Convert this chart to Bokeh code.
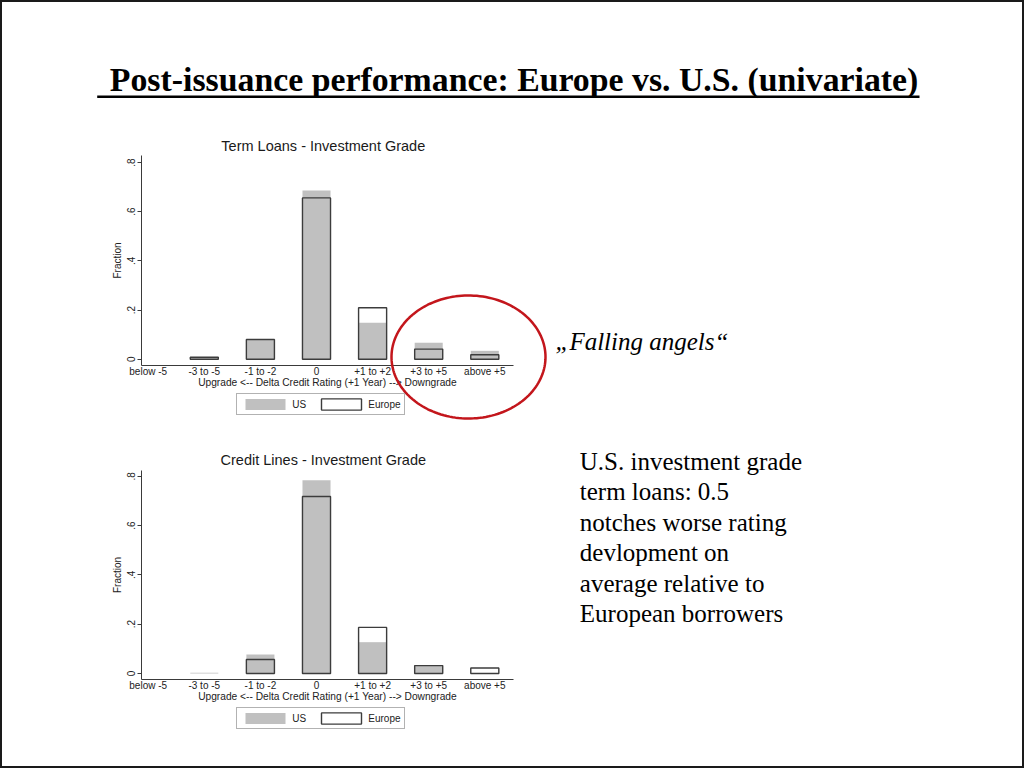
import numpy as np
from bokeh.plotting import figure
from bokeh.models import (ColumnDataSource, Legend, LegendItem, Label, PolyAnnotation,
                          FixedTicker, Range1d, LinearAxis)
from bokeh.embed import file_html
from bokeh.resources import INLINE

# ---------------- data ----------------
categories = ["below -5", "-3 to -5", "-1 to -2", "0", "+1 to +2", "+3 to +5", "above +5"]
term_us = [0.0, 0.008, 0.080, 0.686, 0.148, 0.067, 0.034]
term_eu = [0.0, 0.008, 0.080, 0.656, 0.209, 0.041, 0.018]
credit_us = [0.0, 0.003, 0.077, 0.784, 0.127, 0.032, 0.0]
credit_eu = [0.0, 0.0, 0.057, 0.718, 0.187, 0.032, 0.022]
y_ticks = [0, 0.2, 0.4, 0.6, 0.8]
y_tick_labels = ["0", ".2", ".4", ".6", ".8"]
series_names = ["US", "Europe"]
x_axis_title = "Upgrade <-- Delta Credit Rating (+1 Year) --> Downgrade"
y_axis_title = "Fraction"
chart_titles = ["Term Loans - Investment Grade", "Credit Lines - Investment Grade"]
page_title = "Post-issuance performance: Europe vs. U.S. (univariate)"
callout = "\u201eFalling angels\u201c"
note_lines = ["U.S. investment grade", "term loans: 0.5", "notches worse rating",
              "devlopment on", "average relative to", "European borrowers"]

# ---------------- layout / style constants (pixels) ----------------
W, H = 1024, 768
CAT0_PX, CAT_STEP = 147.7, 56.1          # first category centre, category step
TOP_ZERO_PY, TOP_PPU = 358.7, 245.9      # top chart: y of 0, pixels per unit
BOT_ZERO_PY, BOT_PPU = 673.0, 246.6      # bottom chart
SANS = "Liberation Sans"
SERIF = "Liberation Serif"
US_FILL = "#c0c0c0"
EU_LINE = "#3c3c3c"
AX = "#3a3a3a"
TXT = "#222222"

x_start = -CAT0_PX / CAT_STEP
x_end = (W - CAT0_PX) / CAT_STEP
yt_start, yt_end = (TOP_ZERO_PY - H) / TOP_PPU, TOP_ZERO_PY / TOP_PPU
yb_start, yb_end = (BOT_ZERO_PY - H) / BOT_PPU, BOT_ZERO_PY / BOT_PPU


def X(px):
    return (px - CAT0_PX) / CAT_STEP


def YT(py):
    return (TOP_ZERO_PY - py) / TOP_PPU


def YB(py):
    return (BOT_ZERO_PY - py) / BOT_PPU


p = figure(width=W, height=H, output_backend="svg", toolbar_location=None,
           x_range=Range1d(x_start, x_end), y_range=Range1d(yt_start, yt_end),
           x_axis_location=None, y_axis_location=None, title_location=None,
           min_border=0, min_border_left=0, min_border_right=0,
           min_border_top=0, min_border_bottom=0)
p.extra_y_ranges = {"bot": Range1d(yb_start, yb_end)}
p.grid.visible = False
p.background_fill_color = "white"
p.border_fill_color = "white"
p.outline_line_color = "#1a1a1a"
p.outline_line_width = 3


def chart(title, us, eu, yname, Yf, frame_top_py, axis_py, title_py, legend_bottom_py):
    kw = {} if yname is None else {"y_range_name": yname}
    xs = list(range(len(categories)))
    us_src = ColumnDataSource(dict(x=[x for x, v in zip(xs, us) if v > 0],
                                   top=[v for v in us if v > 0]))
    eu_src = ColumnDataSource(dict(x=[x for x, v in zip(xs, eu) if v > 0],
                                   top=[v for v in eu if v > 0]))
    r_us = p.vbar(x="x", top="top", bottom=0, width=0.5, source=us_src,
                  fill_color=US_FILL, line_color=None, **kw)
    r_eu = p.vbar(x="x", top="top", bottom=0, width=0.5, source=eu_src,
                  fill_color=None, line_color=EU_LINE, line_width=1.4, **kw)

    ya = LinearAxis(fixed_location=X(140.7), bounds=(Yf(axis_py), Yf(frame_top_py)), **kw)
    ya.ticker = FixedTicker(ticks=y_ticks)
    ya.major_label_overrides = dict(zip(y_ticks, y_tick_labels))
    ya.major_label_orientation = "vertical"
    ya.major_tick_out = 4
    ya.major_tick_in = 0
    ya.minor_tick_line_color = None
    ya.major_tick_line_color = AX
    ya.major_label_standoff = 2
    ya.major_label_text_font = SANS
    ya.major_label_text_font_size = "10px"
    ya.major_label_text_color = TXT
    ya.axis_label = y_axis_title
    ya.axis_label_text_font = SANS
    ya.axis_label_text_font_size = "10px"
    ya.axis_label_text_font_style = "normal"
    ya.axis_label_text_color = TXT
    ya.axis_label_standoff = 2
    ya.axis_line_color = AX
    p.add_layout(ya, "left")

    xa = LinearAxis(fixed_location=Yf(axis_py), bounds=(X(140.7), X(513)), **kw)
    xa.ticker = FixedTicker(ticks=xs)
    xa.major_label_overrides = {i: c for i, c in enumerate(categories)}
    xa.major_tick_line_color = None
    xa.major_tick_out = 0
    xa.major_tick_in = 0
    xa.minor_tick_line_color = None
    xa.minor_tick_out = 0
    xa.major_label_standoff = 0
    xa.major_label_text_font = SANS
    xa.major_label_text_font_size = "10px"
    xa.major_label_text_color = TXT
    xa.axis_label = x_axis_title
    xa.axis_label_text_font = SANS
    xa.axis_label_text_font_size = "10.2px"
    xa.axis_label_text_font_style = "normal"
    xa.axis_label_text_color = TXT
    xa.axis_label_standoff = -3
    xa.axis_line_color = AX
    p.add_layout(xa, "below")

    p.add_layout(Label(x=X(322.8), y=YT(title_py), text=title, text_font=SANS,
                       text_font_size="14.5px", text_color="#1a1a1a", text_align="center",
                       text_baseline="alphabetic"))

    legend = Legend(items=[LegendItem(label=series_names[0], renderers=[r_us]),
                           LegendItem(label=series_names[1], renderers=[r_eu])],
                    location=(236.3, H - legend_bottom_py), orientation="horizontal",
                    glyph_width=50, glyph_height=14, label_height=14, label_width=20,
                    padding=3, spacing=4, label_standoff=2, margin=0,
                    border_line_color="#666666", border_line_width=1,
                    background_fill_color="white", background_fill_alpha=1.0,
                    label_text_font=SANS, label_text_font_size="10px",
                    label_text_color=TXT)
    p.add_layout(legend)


chart(chart_titles[0], term_us, term_eu, None, YT, 155, 365, 145, 415)
chart(chart_titles[1], credit_us, credit_eu, "bot", YB, 470, 679, 459.5, 729)


def label(px, py, text, size, style="normal"):
    p.add_layout(Label(x=X(px), y=YT(py), text=text, text_font=SERIF, text_font_size=size,
                       text_font_style=style, text_color="black", text_baseline="alphabetic",
                       text_align="left", level="overlay"))


# page title + underline
label(109.3, 79, page_title, "33.8px", style="bold")
p.add_layout(PolyAnnotation(xs=[X(96.7), X(919), X(919), X(96.7)],
                            ys=[YT(95), YT(95), YT(97.4), YT(97.4)],
                            fill_color="black", fill_alpha=1.0, line_color=None,
                            level="overlay"))

# red ellipse around the downgrade bars
t = np.linspace(0, 2 * np.pi, 160)
cx, cy, rx, ry = 468, 356.5, 77, 61.5
p.add_layout(PolyAnnotation(xs=[X(v) for v in cx + rx * np.cos(t)],
                            ys=[YT(v) for v in cy + ry * np.sin(t)],
                            fill_alpha=0, line_color="#c3161c", line_alpha=1.0,
                            line_width=2.5, level="overlay"))

# callout and note
label(555, 341, callout, "25px", style="italic")
for i, line in enumerate(note_lines):
    label(579.3, 461 + i * 30.4, line, "25px")

open("out.html", "w").write(file_html(p, INLINE))
